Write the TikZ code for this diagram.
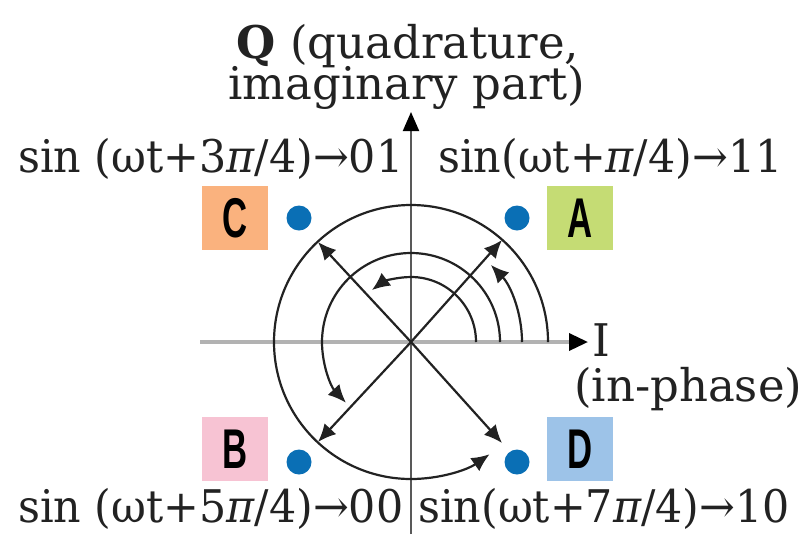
\documentclass[tikz,border=0pt]{standalone}
\usepackage{fontspec}
\setmainfont{DejaVu Serif}
\newfontfamily\lettfont{Liberation Sans}
\usetikzlibrary{arrows.meta}
\definecolor{boxC}{HTML}{FAB27E}
\definecolor{boxA}{HTML}{C5DC74}
\definecolor{boxB}{HTML}{F7C3D3}
\definecolor{boxD}{HTML}{9DC3E8}
\definecolor{dotblue}{HTML}{0A6FB5}
\definecolor{ink}{HTML}{222222}
\newcommand{\narrowtxt}[1]{\scalebox{0.95}[1]{#1}}
\begin{document}
\begin{tikzpicture}[x=1pt,y=1pt,
  lbl/.style={font=\fontsize{45}{50}\selectfont, inner sep=0pt, text=ink},
  letterbox/.style={minimum width=66pt, minimum height=64pt, inner sep=0pt,
     font=\lettfont\bfseries\fontsize{56}{56}\selectfont, text=black},
  dot/.style={circle, fill=dotblue, minimum size=25pt, inner sep=0pt},
  vec/.style={draw=ink, line width=2.2pt, -{Latex[length=18pt,width=16pt]}},
  turn/.style={draw=ink, line width=2.2pt, -{Latex[length=18pt,width=16pt]}}
]
\useasboundingbox (0,0) rectangle (805,-539);
% axes
\coordinate (O) at (411,-342);
\coordinate (Ileft) at (200,-342);
\coordinate (Itip) at (588,-342);
\coordinate (Qbot) at (411,-534);
\coordinate (Qtip) at (411,-112);
\draw[draw=black!30, line width=3.5pt, -{Triangle[length=19pt,width=17pt,color=black]}] (Ileft) -- (Itip);
\draw[draw=black!65, line width=2pt, -{Triangle[length=19pt,width=16pt,color=black]}] (Qbot) -- (Qtip);
% boxes
\node[letterbox, fill=boxC] (C) at (235,-218) {\scalebox{0.62}[1]{C}};
\node[letterbox, fill=boxA] (A) at (580,-218) {\scalebox{0.62}[1]{A}};
\node[letterbox, fill=boxB] (B) at (235,-449) {\scalebox{0.62}[1]{B}};
\node[letterbox, fill=boxD] (D) at (580,-449) {\scalebox{0.62}[1]{D}};
% dots
\node[dot] (dC) at (299,-218) {};
\node[dot] (dA) at (517,-218) {};
\node[dot] (dB) at (299,-462) {};
\node[dot] (dD) at (517,-462) {};
% vector tips
\coordinate (tA) at (502,-240);
\coordinate (tC) at (318,-242);
\coordinate (tB) at (318,-442);
\coordinate (tD) at (502,-443);
\draw[vec] (O) -- (tA);
\draw[vec] (O) -- (tC);
\draw[vec] (O) -- (tB);
\draw[vec] (O) -- (tD);
% rotation arcs
\draw[turn] (O) ++(0:65) arc[start angle=0, end angle=127, radius=65];
\draw[turn] (O) ++(0:89) arc[start angle=0, end angle=223, radius=89];
\draw[turn] (O) ++(0:111) arc[start angle=0, end angle=44, radius=111];
\draw[turn] (O) ++(0:137) arc[start angle=0, end angle=305, radius=137];
% labels
\node[lbl, anchor=base] (q1) at (408,-58) {\textbf{Q} (quadrature,};
\node[lbl, anchor=base] (q2) at (407,-99) {imaginary part)};
\node[lbl, anchor=base west] (lC) at (18,-172) {\narrowtxt{sin (ωt+3{\itshape π}/4)→01}};
\node[lbl, anchor=base west] (lA) at (438,-172) {\narrowtxt{sin(ωt+{\itshape π}/4)→11}};
\node[lbl, anchor=base west] (lB) at (18,-522) {\narrowtxt{sin (ωt+5{\itshape π}/4)→00}};
\node[lbl, anchor=base west] (lD) at (418,-522) {\narrowtxt{sin(ωt+7{\itshape π}/4)→10}};
\node[lbl, anchor=base west] (iI) at (592,-356) {I};
\node[lbl, anchor=base west] (iP) at (574,-401) {(in-phase)};
\end{tikzpicture}
\end{document}
